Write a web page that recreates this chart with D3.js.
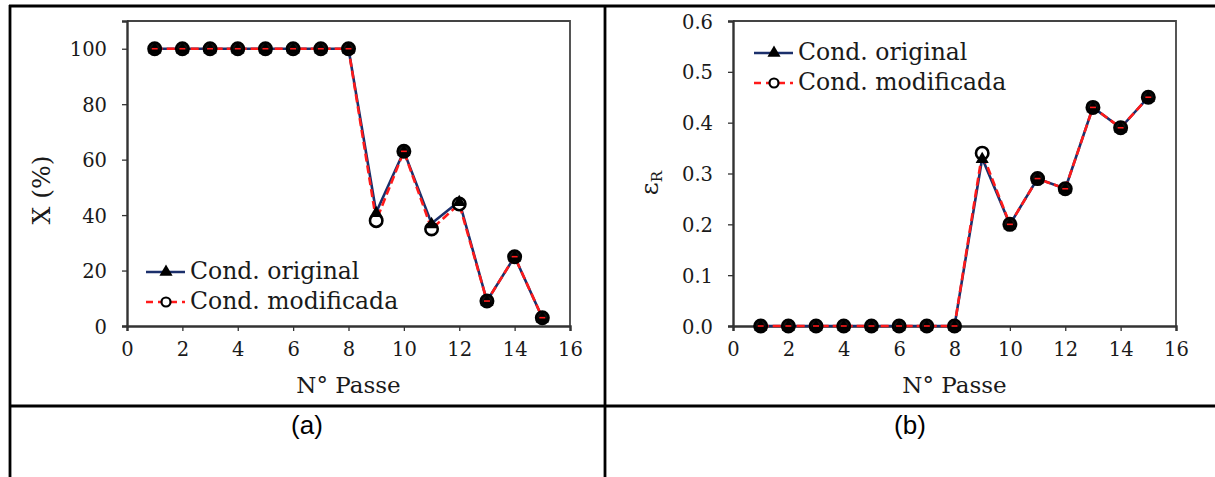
<!DOCTYPE html>
<html>
<head>
<meta charset="utf-8">
<script src="https://cdn.jsdelivr.net/npm/d3@7"></script>
<style>
  body { margin: 0; background: #fff; }
  svg { display: block; }
  .tick text { font-family: "DejaVu Serif", serif; font-size: 19.5px; fill: #1a1a1a; }
</style>
</head>
<body>
<svg id="chart" width="1215" height="477"></svg>
<script>
// Data
const passes = [1, 2, 3, 4, 5, 6, 7, 8, 9, 10, 11, 12, 13, 14, 15];
const xOriginal = [100, 100, 100, 100, 100, 100, 100, 100, 41, 63, 37, 45, 9, 25, 3];
const xModified = [100, 100, 100, 100, 100, 100, 100, 100, 38, 63, 35, 44, 9, 25, 3];
const epsOriginal = [0, 0, 0, 0, 0, 0, 0, 0, 0.33, 0.20, 0.29, 0.27, 0.43, 0.39, 0.45];
const epsModified = [0, 0, 0, 0, 0, 0, 0, 0, 0.34, 0.20, 0.29, 0.27, 0.43, 0.39, 0.45];
const xTicks = [0, 2, 4, 6, 8, 10, 12, 14, 16];
const xPctTicks = [0, 20, 40, 60, 80, 100];
const epsTicks = [0, 0.1, 0.2, 0.3, 0.4, 0.5, 0.6];
const seriesNames = ['Cond. original', 'Cond. modificada'];

const NAVY = '#1b2f6b';
const RED = '#ff1a1a';
const svg = d3.select('#chart');

// Table grid
const grid = svg.append('g').attr('stroke', '#000').attr('stroke-width', 2.8);
grid.append('line').attr('x1', 9).attr('x2', 1215).attr('y1', 6).attr('y2', 6);
grid.append('line').attr('x1', 9).attr('x2', 1215).attr('y1', 406).attr('y2', 406);
grid.append('line').attr('x1', 10).attr('x2', 10).attr('y1', 5).attr('y2', 477);
grid.append('line').attr('x1', 605).attr('x2', 605).attr('y1', 5).attr('y2', 477);

svg.append('text').attr('x', 307).attr('y', 434).attr('text-anchor', 'middle')
  .style('font-family', '"Liberation Sans", Arial, sans-serif').style('font-size', '26px').text('(a)');
svg.append('text').attr('x', 910).attr('y', 434).attr('text-anchor', 'middle')
  .style('font-family', '"Liberation Sans", Arial, sans-serif').style('font-size', '26px').text('(b)');

function drawPanel(opt) {
  const g = svg.append('g');
  const x = d3.scaleLinear().domain([0, 16]).range([opt.left, opt.right]);
  const y = d3.scaleLinear().domain(opt.yDomain).range([326, 21]);

  // frame (top/right)
  g.append('path')
    .attr('d', `M${opt.left},21H${opt.right}V326`)
    .attr('fill', 'none').attr('stroke', '#444').attr('stroke-width', 1.8);

  const xAxis = g.append('g').attr('transform', 'translate(0,326)')
    .call(d3.axisBottom(x).tickValues(xTicks).tickSize(5).tickPadding(11).tickFormat(d3.format('d')));
  const yAxis = g.append('g').attr('transform', `translate(${opt.left},0)`)
    .call(d3.axisLeft(y).tickValues(opt.yTicks).tickSize(5).tickPadding(15).tickFormat(opt.yFormat));
  [xAxis, yAxis].forEach(a => {
    a.select('.domain').attr('stroke', '#333').attr('stroke-width', 2.4);
    a.selectAll('.tick line').attr('stroke', '#333').attr('stroke-width', 1.3);
  });
  xAxis.selectAll('.tick text').attr('dy', '0.71em');
  yAxis.selectAll('.tick text').attr('dy', '0.36em');

  // x title
  g.append('text').attr('x', (opt.left + opt.right) / 2).attr('y', 393)
    .attr('text-anchor', 'middle')
    .style('font-family', '"DejaVu Serif", serif').style('font-size', '23px').style('fill', '#1a1a1a')
    .text('N° Passe');

  // y title
  const yt = g.append('text')
    .attr('transform', `translate(${opt.yTitleX},${opt.yTitleY}) rotate(-90)`)
    .attr('text-anchor', 'middle')
    .style('font-family', '"DejaVu Serif", serif').style('font-size', opt.yTitleSize).style('fill', '#1a1a1a');
  if (opt.yTitleSub) {
    yt.append('tspan').text(opt.yTitle);
    yt.append('tspan').attr('dy', 4).style('font-size', '15px').text(opt.yTitleSub);
  } else {
    yt.text(opt.yTitle);
  }

  const line = d3.line().x((d, i) => x(passes[i])).y(d => y(d));
  const tri = d3.symbol().type(d3.symbolTriangle).size(75);

  // original series
  g.append('path').datum(opt.orig).attr('d', line)
    .attr('fill', 'none').attr('stroke', NAVY).attr('stroke-width', 2.6);
  // modified series
  g.append('path').datum(opt.mod).attr('d', line)
    .attr('fill', 'none').attr('stroke', RED).attr('stroke-width', 2.6).attr('stroke-dasharray', '8,4');

  g.append('g').selectAll('circle').data(opt.mod).join('circle')
    .attr('cx', (d, i) => x(passes[i])).attr('cy', d => y(d)).attr('r', 6.2)
    .attr('fill', (d, i) => Math.abs(d - opt.orig[i]) < 1e-9 ? '#111' : '#fff')
    .attr('stroke', '#000').attr('stroke-width', 2.6);
  g.append('g').selectAll('path').data(opt.orig).join('path')
    .attr('d', tri).attr('transform', (d, i) => `translate(${x(passes[i])},${y(d) + 1})`)
    .attr('fill', '#000');
  // dashed red line visible across overlapping markers
  g.append('g').selectAll('line').data(opt.mod).join('line')
    .attr('x1', (d, i) => x(passes[i]) - 3).attr('x2', (d, i) => x(passes[i]) + 3)
    .attr('y1', d => y(d)).attr('y2', d => y(d))
    .attr('stroke', RED).attr('stroke-width', 1.6)
    .attr('opacity', (d, i) => Math.abs(d - opt.orig[i]) < 1e-9 ? 1 : 0);

  // legend
  const lg = g.append('g');
  seriesNames.forEach((name, k) => {
    const ly = opt.legendY + k * 30;
    const lx = opt.legendX;
    lg.append('line').attr('x1', lx).attr('x2', lx + 39).attr('y1', ly).attr('y2', ly)
      .attr('stroke', k === 0 ? NAVY : RED).attr('stroke-width', 2.4)
      .attr('stroke-dasharray', k === 0 ? null : '7,5');
    if (k === 0) {
      lg.append('path').attr('d', tri).attr('transform', `translate(${lx + 20},${ly})`).attr('fill', '#000');
    } else {
      lg.append('circle').attr('cx', lx + 20).attr('cy', ly).attr('r', 4.5)
        .attr('fill', '#fff').attr('stroke', '#000').attr('stroke-width', 2.2);
    }
    lg.append('text').attr('x', lx + 44).attr('y', ly + 7)
      .style('font-family', '"DejaVu Serif", serif').style('font-size', '23.5px').style('fill', '#1a1a1a')
      .text(name);
  });
}

drawPanel({
  left: 127, right: 570, yDomain: [0, 110], yTicks: xPctTicks, yFormat: d3.format('d'),
  orig: xOriginal, mod: xModified,
  yTitle: 'X (%)', yTitleSize: '25px', yTitleX: 50, yTitleY: 190,
  legendX: 146, legendY: 272
});

drawPanel({
  left: 733, right: 1176, yDomain: [0, 0.6], yTicks: epsTicks, yFormat: d3.format('.1f'),
  orig: epsOriginal, mod: epsModified,
  yTitle: 'ε', yTitleSub: 'R', yTitleSize: '25px', yTitleX: 658, yTitleY: 183,
  legendX: 754, legendY: 53
});
</script>
</body>
</html>
